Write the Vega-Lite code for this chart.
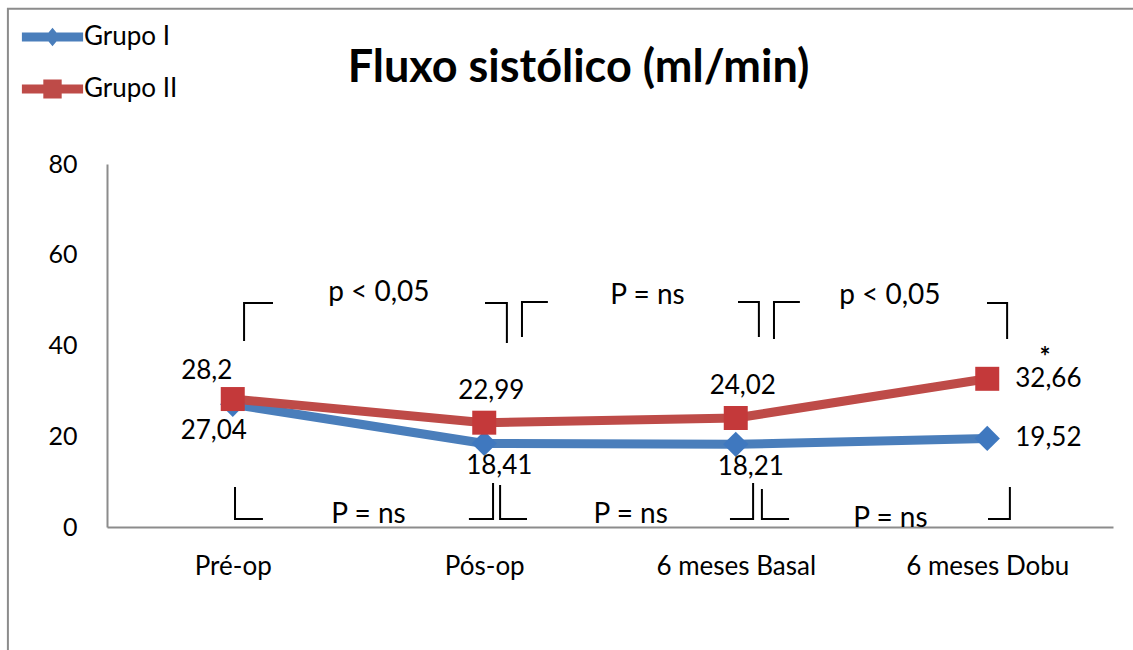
{
  "$schema": "https://vega.github.io/schema/vega-lite/v6.json",
  "width": 1006,
  "height": 363,
  "autosize": {"type": "none"},
  "padding": {"left": 107, "top": 164, "right": 20, "bottom": 123},
  "background": "white",
  "config": {
    "font": "Lato",
    "view": {"stroke": null},
    "locale": {
      "number": {"decimal": ",", "thousands": ".", "grouping": [3], "currency": ["R$ ", ""]}
    }
  },
  "datasets": {
    "fluxo": [
      {"etapa": "Pré-op", "grupo": "Grupo I", "valor": 27.04},
      {"etapa": "Pós-op", "grupo": "Grupo I", "valor": 18.41},
      {"etapa": "6 meses Basal", "grupo": "Grupo I", "valor": 18.21},
      {"etapa": "6 meses Dobu", "grupo": "Grupo I", "valor": 19.52},
      {"etapa": "Pré-op", "grupo": "Grupo II", "valor": 28.2},
      {"etapa": "Pós-op", "grupo": "Grupo II", "valor": 22.99},
      {"etapa": "6 meses Basal", "grupo": "Grupo II", "valor": 24.02},
      {"etapa": "6 meses Dobu", "grupo": "Grupo II", "valor": 32.66}
    ],
    "colchetes": [
      {"id": 1, "k": 1, "u": 0.545, "v": 40.99}, {"id": 1, "k": 2, "u": 0.545, "v": 49.37}, {"id": 1, "k": 3, "u": 0.66, "v": 49.37},
      {"id": 2, "k": 1, "u": 1.503, "v": 49.37}, {"id": 2, "k": 2, "u": 1.59, "v": 49.37}, {"id": 2, "k": 3, "u": 1.59, "v": 40.55},
      {"id": 3, "k": 1, "u": 1.65, "v": 41.87}, {"id": 3, "k": 2, "u": 1.65, "v": 49.59}, {"id": 3, "k": 3, "u": 1.753, "v": 49.59},
      {"id": 4, "k": 1, "u": 2.509, "v": 49.59}, {"id": 4, "k": 2, "u": 2.592, "v": 49.59}, {"id": 4, "k": 3, "u": 2.592, "v": 41.87},
      {"id": 5, "k": 1, "u": 2.652, "v": 41.43}, {"id": 5, "k": 2, "u": 2.652, "v": 49.59}, {"id": 5, "k": 3, "u": 2.755, "v": 49.59},
      {"id": 6, "k": 1, "u": 3.499, "v": 49.37}, {"id": 6, "k": 2, "u": 3.579, "v": 49.37}, {"id": 6, "k": 3, "u": 3.579, "v": 41.43},
      {"id": 7, "k": 1, "u": 0.509, "v": 8.82}, {"id": 7, "k": 2, "u": 0.509, "v": 1.76}, {"id": 7, "k": 3, "u": 0.62, "v": 1.76},
      {"id": 8, "k": 1, "u": 1.439, "v": 1.76}, {"id": 8, "k": 2, "u": 1.535, "v": 1.76}, {"id": 8, "k": 3, "u": 1.535, "v": 9.7},
      {"id": 9, "k": 1, "u": 1.563, "v": 9.26}, {"id": 9, "k": 2, "u": 1.563, "v": 1.76}, {"id": 9, "k": 3, "u": 1.67, "v": 1.76},
      {"id": 10, "k": 1, "u": 2.477, "v": 1.76}, {"id": 10, "k": 2, "u": 2.569, "v": 1.76}, {"id": 10, "k": 3, "u": 2.569, "v": 9.7},
      {"id": 11, "k": 1, "u": 2.604, "v": 8.37}, {"id": 11, "k": 2, "u": 2.604, "v": 1.76}, {"id": 11, "k": 3, "u": 2.712, "v": 1.76},
      {"id": 12, "k": 1, "u": 3.503, "v": 1.76}, {"id": 12, "k": 2, "u": 3.59, "v": 1.76}, {"id": 12, "k": 3, "u": 3.59, "v": 8.82}
    ],
    "significancia": [
      {"u": 1.081, "v": 49.8, "texto": "p < 0,05"},
      {"u": 2.149, "v": 49.1, "texto": "P = ns"},
      {"u": 3.113, "v": 49.1, "texto": "p < 0,05"},
      {"u": 1.04, "v": 0.88, "texto": "P = ns"},
      {"u": 2.082, "v": 0.88, "texto": "P = ns"},
      {"u": 3.115, "v": 0.0, "texto": "P = ns"}
    ]
  },
  "resolve": {"scale": {"x": "independent"}},
  "layer": [
    {
      "data": {"values": [{}]},
      "mark": {"type": "rect", "fill": null, "stroke": "#8C8C8C", "strokeWidth": 2},
      "encoding": {
        "x": {"datum": -0.394, "type": "quantitative", "scale": {"domain": [0, 4], "nice": false, "zero": false}, "axis": null},
        "x2": {"datum": 4.2},
        "y": {"datum": 114.2, "type": "quantitative", "scale": {"domain": [0, 80], "nice": false}},
        "y2": {"datum": -40}
      }
    },
    {
      "data": {"name": "colchetes"},
      "mark": {"type": "line", "color": "black", "strokeWidth": 2},
      "encoding": {
        "x": {"field": "u", "type": "quantitative", "scale": {"domain": [0, 4], "nice": false, "zero": false}, "axis": null},
        "y": {"field": "v", "type": "quantitative", "scale": {"domain": [0, 80], "nice": false}},
        "detail": {"field": "id", "type": "nominal"},
        "order": {"field": "k", "type": "quantitative"}
      }
    },
    {
      "data": {"name": "significancia"},
      "mark": {"type": "text", "fontSize": 28, "color": "black", "align": "center", "baseline": "alphabetic"},
      "encoding": {
        "x": {"field": "u", "type": "quantitative", "scale": {"domain": [0, 4], "nice": false, "zero": false}, "axis": null},
        "y": {"field": "v", "type": "quantitative", "scale": {"domain": [0, 80], "nice": false}},
        "text": {"field": "texto", "type": "nominal"}
      }
    },
    {
      "data": {"values": [{}]},
      "mark": {"type": "text", "text": "*", "fontSize": 26, "fontWeight": "bold", "color": "black", "align": "center", "baseline": "middle"},
      "encoding": {
        "x": {"datum": 3.73, "type": "quantitative", "scale": {"domain": [0, 4], "nice": false, "zero": false}, "axis": null},
        "y": {"datum": 37.3, "type": "quantitative", "scale": {"domain": [0, 80], "nice": false}}
      }
    },
    {
      "data": {"values": [{}]},
      "mark": {"type": "text", "text": "Fluxo sistólico (ml/min)", "fontSize": 45, "fontWeight": "bold", "color": "black", "align": "center", "baseline": "alphabetic"},
      "encoding": {
        "x": {"datum": 1.875, "type": "quantitative", "scale": {"domain": [0, 4], "nice": false, "zero": false}, "axis": null},
        "y": {"datum": 98.1, "type": "quantitative", "scale": {"domain": [0, 80], "nice": false}}
      }
    },
    {
      "data": {"name": "fluxo"},
      "mark": {"type": "line", "strokeWidth": 9, "strokeJoin": "round", "strokeCap": "round"},
      "encoding": {
        "x": {
          "field": "etapa", "type": "nominal",
          "scale": {"type": "point", "padding": 0.5, "domain": ["Pré-op", "Pós-op", "6 meses Basal", "6 meses Dobu"]},
          "axis": {
            "title": null, "ticks": false, "domainColor": "#8C8C8C", "domainWidth": 2,
            "labelFontSize": 26, "labelColor": "black", "labelPadding": 26, "labelAngle": 0
          }
        },
        "y": {
          "field": "valor", "type": "quantitative",
          "scale": {"domain": [0, 80], "nice": false},
          "axis": {
            "title": null, "ticks": false, "grid": false, "values": [0, 20, 40, 60, 80],
            "domainColor": "#8C8C8C", "domainWidth": 2,
            "labelFontSize": 25, "labelColor": "black", "labelPadding": 30
          }
        },
        "color": {
          "field": "grupo", "type": "nominal",
          "scale": {"domain": ["Grupo I", "Grupo II"], "range": ["#4A7EBB", "#BE4B48"]},
          "legend": {
            "title": null, "orient": "none", "legendX": -80, "legendY": -152.5,
            "padding": 0, "rowPadding": 13,
            "symbolSize": 2601, "symbolStrokeWidth": 0,
            "labelFontSize": 26, "labelColor": "black", "labelOffset": 6,
            "encode": {
              "symbols": {
                "update": {
                  "shape": {"signal": "datum.value === 'Grupo I' ? 'M-1.2,-0.176 L1.2,-0.176 L1.2,0.176 L-1.2,0.176 Z M0,-0.36 L0.3,0 L0,0.36 L-0.3,0 Z' : 'M-1.2,-0.176 L1.2,-0.176 L1.2,0.176 L-1.2,0.176 Z M-0.36,-0.37 L0.36,-0.37 L0.36,0.37 L-0.36,0.37 Z'"},
                  "fill": {"scale": "color", "field": "value"},
                  "fillOpacity": {"value": 1},
                  "strokeWidth": {"value": 0}
                }
              }
            }
          }
        }
      }
    },
    {
      "data": {"name": "fluxo"},
      "transform": [{"filter": "datum.grupo === 'Grupo I'"}],
      "mark": {"type": "point", "shape": "diamond", "filled": true, "size": 640, "opacity": 1, "color": "#3F78BF"},
      "encoding": {
        "x": {"field": "etapa", "type": "nominal", "scale": {"type": "point", "padding": 0.5, "domain": ["Pré-op", "Pós-op", "6 meses Basal", "6 meses Dobu"]}, "axis": null},
        "y": {"field": "valor", "type": "quantitative", "scale": {"domain": [0, 80], "nice": false}}
      }
    },
    {
      "data": {"name": "fluxo"},
      "transform": [{"filter": "datum.grupo === 'Grupo II'"}],
      "mark": {"type": "point", "shape": "square", "filled": true, "size": 576, "opacity": 1, "color": "#C4393A"},
      "encoding": {
        "x": {"field": "etapa", "type": "nominal", "scale": {"type": "point", "padding": 0.5, "domain": ["Pré-op", "Pós-op", "6 meses Basal", "6 meses Dobu"]}, "axis": null},
        "y": {"field": "valor", "type": "quantitative", "scale": {"domain": [0, 80], "nice": false}}
      }
    },
    {
      "data": {"name": "fluxo"},
      "transform": [{"filter": "datum.etapa === 'Pré-op' && datum.grupo === 'Grupo II'"}],
      "mark": {"type": "text", "fontSize": 26, "color": "black", "dx": -26, "dy": -28},
      "encoding": {
        "x": {"field": "etapa", "type": "nominal", "scale": {"type": "point", "padding": 0.5, "domain": ["Pré-op", "Pós-op", "6 meses Basal", "6 meses Dobu"]}, "axis": null},
        "y": {"field": "valor", "type": "quantitative", "scale": {"domain": [0, 80], "nice": false}},
        "text": {"field": "valor", "type": "quantitative", "format": "~g"}
      }
    },
    {
      "data": {"name": "fluxo"},
      "transform": [{"filter": "datum.etapa === 'Pré-op' && datum.grupo === 'Grupo I'"}],
      "mark": {"type": "text", "fontSize": 26, "color": "black", "dx": -19, "dy": 27},
      "encoding": {
        "x": {"field": "etapa", "type": "nominal", "scale": {"type": "point", "padding": 0.5, "domain": ["Pré-op", "Pós-op", "6 meses Basal", "6 meses Dobu"]}, "axis": null},
        "y": {"field": "valor", "type": "quantitative", "scale": {"domain": [0, 80], "nice": false}},
        "text": {"field": "valor", "type": "quantitative", "format": "~g"}
      }
    },
    {
      "data": {"name": "fluxo"},
      "transform": [{"filter": "(datum.etapa === 'Pós-op' || datum.etapa === '6 meses Basal') && datum.grupo === 'Grupo II'"}],
      "mark": {"type": "text", "fontSize": 26, "color": "black", "dx": 7, "dy": -32},
      "encoding": {
        "x": {"field": "etapa", "type": "nominal", "scale": {"type": "point", "padding": 0.5, "domain": ["Pré-op", "Pós-op", "6 meses Basal", "6 meses Dobu"]}, "axis": null},
        "y": {"field": "valor", "type": "quantitative", "scale": {"domain": [0, 80], "nice": false}},
        "text": {"field": "valor", "type": "quantitative", "format": "~g"}
      }
    },
    {
      "data": {"name": "fluxo"},
      "transform": [{"filter": "(datum.etapa === 'Pós-op' || datum.etapa === '6 meses Basal') && datum.grupo === 'Grupo I'"}],
      "mark": {"type": "text", "fontSize": 26, "color": "black", "dx": 15, "dy": 23},
      "encoding": {
        "x": {"field": "etapa", "type": "nominal", "scale": {"type": "point", "padding": 0.5, "domain": ["Pré-op", "Pós-op", "6 meses Basal", "6 meses Dobu"]}, "axis": null},
        "y": {"field": "valor", "type": "quantitative", "scale": {"domain": [0, 80], "nice": false}},
        "text": {"field": "valor", "type": "quantitative", "format": "~g"}
      }
    },
    {
      "data": {"name": "fluxo"},
      "transform": [{"filter": "datum.etapa === '6 meses Dobu'"}],
      "mark": {"type": "text", "fontSize": 26, "color": "black", "align": "left", "dx": 28},
      "encoding": {
        "x": {"field": "etapa", "type": "nominal", "scale": {"type": "point", "padding": 0.5, "domain": ["Pré-op", "Pós-op", "6 meses Basal", "6 meses Dobu"]}, "axis": null},
        "y": {"field": "valor", "type": "quantitative", "scale": {"domain": [0, 80], "nice": false}},
        "text": {"field": "valor", "type": "quantitative", "format": "~g"}
      }
    }
  ]
}
